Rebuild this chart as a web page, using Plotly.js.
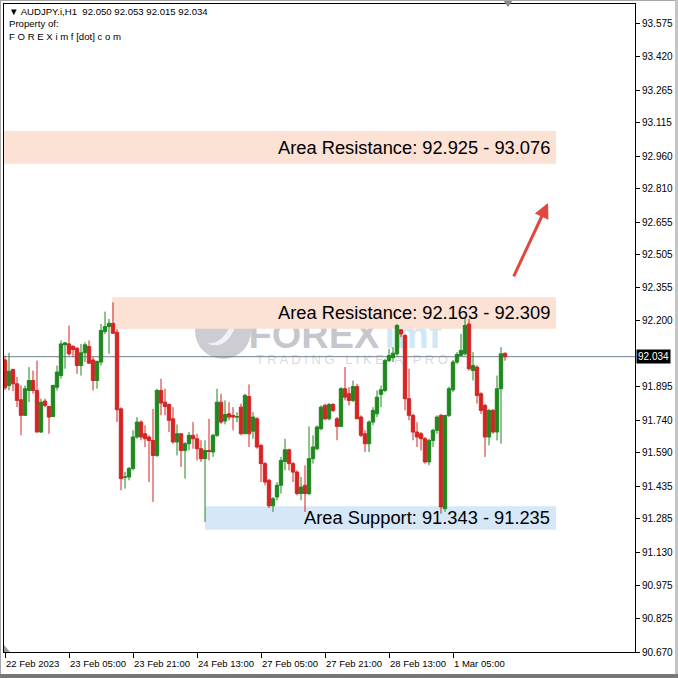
<!DOCTYPE html>
<html>
<head>
<meta charset="utf-8">
<script src="https://cdn.plot.ly/plotly-3.0.1.min.js"></script>
<style>
  html, body { margin:0; padding:0; background:#fff; }
  #wrap { position:relative; width:678px; height:678px; overflow:hidden; }
  #chart { position:absolute; left:0; top:0; width:678px; height:678px; }
  .edge { position:absolute; background:#a6a6a6; }
</style>
</head>
<body>
<div id="wrap">
  <div id="chart"></div>
  <div class="edge" style="left:0;top:0;width:678px;height:1px;"></div>
  <div class="edge" style="left:0;top:0;width:1px;height:678px;"></div>
  <div class="edge" style="left:675px;top:0;width:3px;height:678px;background:#c4c4c4;"></div>
  <div class="edge" style="left:0;top:674px;width:678px;height:4px;background:#777;"></div>
</div>
<script>
// ---- Data (AUDJPY.i, H1) ----
const openP = [92.019,91.901,91.975,91.909,91.835,91.763,91.878,91.924,91.878,91.686,
91.829,91.804,91.758,91.893,91.947,92.089,92.093,92.082,92.073,91.993,
92.052,92.081,92.019,91.924,92.009,92.150,92.173,92.188,92.147,91.793,
91.478,91.478,91.517,91.663,91.732,91.678,91.663,91.647,91.578,91.878,
91.824,91.813,91.747,91.640,91.678,91.601,91.632,91.671,91.655,91.609,
91.563,91.601,91.594,91.671,91.824,91.737,91.770,91.763,91.755,91.801,
91.678,91.850,91.690,91.747,91.624,91.540,91.463,91.345,91.386,91.440,
91.550,91.604,91.540,91.501,91.402,91.440,91.402,91.563,91.609,91.701,
91.809,91.747,91.813,91.747,91.712,91.886,91.863,91.832,91.896,91.755,
91.678,91.632,91.732,91.770,91.860,91.878,92.016,92.029,92.047,92.158,
92.132,91.840,91.763,91.686,91.678,91.655,91.548,91.647,91.694,91.763,
91.332,91.763,91.881,92.009,92.039,92.047,92.185,91.970,91.986,91.863,
91.809,91.663,91.786,91.686,91.886,92.050];
const highP = [92.039,92.052,91.978,91.940,91.901,91.901,91.986,91.970,92.016,91.840,
91.840,91.806,91.905,91.993,92.109,92.101,92.178,92.086,92.078,92.093,
92.101,92.109,92.032,92.016,92.185,92.242,92.208,92.285,92.162,91.800,
91.502,91.525,91.694,91.755,91.740,91.717,91.671,91.793,91.886,91.932,
91.886,91.817,91.801,91.721,91.681,91.640,91.686,91.732,91.678,91.648,
91.648,91.747,91.678,91.886,91.863,91.832,91.824,91.801,91.778,91.817,
91.863,91.906,91.778,91.755,91.632,91.548,91.470,91.386,91.455,91.571,
91.655,91.609,91.548,91.509,91.478,91.532,91.712,91.671,91.717,91.809,
91.817,91.820,91.820,91.755,91.893,91.986,91.893,91.924,91.909,91.763,
91.694,91.740,91.801,91.878,91.901,92.024,92.070,92.078,92.185,92.162,
92.139,91.978,91.770,91.732,91.686,91.663,91.655,91.701,91.763,91.770,
91.763,91.896,92.019,92.055,92.139,92.208,92.208,92.055,91.993,91.870,
91.817,91.793,91.793,91.947,92.078,92.053];
const lowP = [91.881,91.878,91.875,91.801,91.671,91.760,91.824,91.863,91.684,91.681,
91.800,91.678,91.755,91.878,91.932,91.978,92.039,92.032,91.955,91.947,
92.009,92.001,91.878,91.886,91.993,92.139,92.047,92.139,91.732,91.417,
91.425,91.463,91.509,91.655,91.648,91.617,91.455,91.363,91.571,91.763,
91.763,91.686,91.632,91.578,91.525,91.471,91.601,91.609,91.555,91.548,
91.270,91.555,91.571,91.663,91.724,91.721,91.740,91.694,91.732,91.671,
91.676,91.617,91.655,91.609,91.455,91.440,91.335,91.317,91.371,91.402,
91.509,91.509,91.455,91.394,91.371,91.317,91.394,91.540,91.601,91.694,
91.740,91.740,91.778,91.648,91.712,91.832,91.809,91.824,91.747,91.663,
91.594,91.594,91.717,91.755,91.801,91.870,92.009,92.009,92.039,92.124,
91.786,91.740,91.648,91.617,91.601,91.540,91.532,91.617,91.678,91.309,
91.317,91.755,91.870,92.001,92.039,92.039,91.970,91.924,91.817,91.770,
91.571,91.624,91.678,91.647,91.632,92.015];
const closeP = [91.890,91.967,91.909,91.832,91.763,91.886,91.924,91.878,91.686,91.824,
91.809,91.755,91.901,91.963,92.093,92.098,92.047,92.067,91.993,92.052,
92.089,92.004,91.924,92.012,92.155,92.173,92.188,92.142,91.789,91.471,
91.478,91.517,91.663,91.732,91.663,91.655,91.647,91.578,91.878,91.820,
91.804,91.740,91.640,91.678,91.601,91.632,91.671,91.655,91.609,91.563,
91.601,91.596,91.671,91.824,91.732,91.767,91.755,91.755,91.757,91.678,
91.855,91.678,91.755,91.617,91.540,91.455,91.345,91.378,91.440,91.555,
91.604,91.540,91.501,91.402,91.432,91.402,91.563,91.617,91.709,91.801,
91.747,91.813,91.786,91.712,91.886,91.847,91.832,91.896,91.747,91.671,
91.632,91.732,91.786,91.847,91.881,92.016,92.039,92.050,92.178,92.139,
91.840,91.763,91.686,91.663,91.655,91.548,91.647,91.694,91.755,91.340,
91.763,91.886,92.009,92.044,92.063,92.178,91.978,91.993,91.855,91.786,
91.663,91.786,91.686,91.886,92.047,92.034];

const timeTickIdx = [0,16,32,48,64,80,96,112];
const timeTickText = ["22 Feb 2023","23 Feb 05:00","23 Feb 21:00","24 Feb 13:00",
                      "27 Feb 05:00","27 Feb 21:00","28 Feb 13:00","1 Mar 05:00"];
const priceTicks = [93.575,93.420,93.265,93.115,92.960,92.810,92.655,92.505,92.355,92.200,
                    91.895,91.740,91.590,91.435,91.285,91.130,90.975,90.825,90.670];
const lastPrice = 92.034;
const headerText = ["\u25BC AUDJPY.i,H1  92.050 92.053 92.015 92.034","Property of:","F O R E X i m f [dot] c o m"];

const zoneLow   = [92.925, 92.163, 91.235];
const zoneHigh  = [93.076, 92.309, 91.343];
const zoneLabel = ["Area Resistance: 92.925 - 93.076","Area Resistance: 92.163 - 92.309","Area Support: 91.343 - 91.235"];
const zoneKind  = ["res","res","sup"];

// ---- Drawing ----
const xIdx = openP.map((_, i) => i);
const zoneStart = [-0.25, 26.75, 50];
const zoneEnd = 137.75;

const font = "Liberation Sans, Arial, sans-serif";
const px2paperX = px => (px - 4) / 631;
const px2paperY = py => (652 - py) / 648;

const shapes = [];
zoneLow.forEach((lo, k) => {
  shapes.push({type:'rect', xref:'x', yref:'y', x0:zoneStart[k], x1:zoneEnd, y0:lo, y1:zoneHigh[k],
    fillcolor: zoneKind[k] === 'res' ? '#FCE1D5' : '#D6E8F8', line:{width:0}, layer:'below'});
});
// watermark
shapes.push({type:'circle', xref:'paper', yref:'paper', x0:px2paperX(195), x1:px2paperX(251), y0:px2paperY(359), y1:px2paperY(303),
  fillcolor:'rgba(95,95,115,0.32)', line:{width:0}, layer:'below'});
shapes.push({type:'path', xref:'paper', yref:'paper', layer:'below',
  path:`M ${px2paperX(206)},${px2paperY(343)} Q ${px2paperX(222)},${px2paperY(346)} ${px2paperX(232)},${px2paperY(322)} L ${px2paperX(226)},${px2paperY(322)} L ${px2paperX(238)},${px2paperY(313)} L ${px2paperX(241)},${px2paperY(328)} L ${px2paperX(236)},${px2paperY(325)} Q ${px2paperX(226)},${px2paperY(352)} ${px2paperX(206)},${px2paperY(343)} Z`,
  fillcolor:'rgba(255,255,255,0.75)', line:{width:0}});
shapes.push({type:'rect', xref:'paper', yref:'paper', x0:px2paperX(250), x1:px2paperX(378), y0:px2paperY(350), y1:px2paperY(312),
  fillcolor:'rgba(0,0,0,0)', line:{width:0}, layer:'below',
  label:{text:'FOREX', textposition:'middle center', font:{family:font, size:38, color:'rgba(90,92,112,0.34)', weight:'bold'}}});
shapes.push({type:'rect', xref:'paper', yref:'paper', x0:px2paperX(378), x1:px2paperX(448), y0:px2paperY(350), y1:px2paperY(312),
  fillcolor:'rgba(0,0,0,0)', line:{width:0}, layer:'below',
  label:{text:'imf', textposition:'middle center', font:{family:font, size:38, color:'rgba(90,170,220,0.28)', weight:'bold'}}});
shapes.push({type:'rect', xref:'paper', yref:'paper', x0:px2paperX(258), x1:px2paperX(446), y0:px2paperY(366), y1:px2paperY(350),
  fillcolor:'rgba(0,0,0,0)', line:{width:0}, layer:'below',
  label:{text:'T R A D I N G   L I K E   A   P R O', textposition:'middle center', font:{family:font, size:13, color:'rgba(120,120,135,0.30)'}}});
// last price line
shapes.push({type:'line', xref:'paper', yref:'y', x0:0, x1:1, y0:lastPrice, y1:lastPrice,
  line:{color:'#6f8090', width:1}, layer:'below'});
// chart shift marker (top) and scroll marker (bottom-left)
shapes.push({type:'path', xref:'paper', yref:'paper',
  path:`M ${px2paperX(503)},${px2paperY(0)} L ${px2paperX(513)},${px2paperY(0)} L ${px2paperX(508)},${px2paperY(7)} Z`,
  fillcolor:'#8a8a8a', line:{width:0}});
shapes.push({type:'path', xref:'paper', yref:'paper',
  path:`M ${px2paperX(4)},${px2paperY(645)} L ${px2paperX(4)},${px2paperY(652)} L ${px2paperX(10)},${px2paperY(652)} Z`,
  fillcolor:'#9a9a9a', line:{width:0}});

const annotations = [];
zoneLabel.forEach((t, k) => {
  annotations.push({xref:'x', yref:'y', x:136.75, y:(zoneLow[k] + zoneHigh[k]) / 2, xanchor:'right', yanchor:'middle',
    text:t, showarrow:false, font:{family:font, size:18.3, color:'#000'}});
});
annotations.push({xref:'x', yref:'y', axref:'x', ayref:'y', x:135.75, y:92.744, ax:127, ay:92.398,
  text:'', showarrow:true, arrowcolor:'#E2473D', arrowwidth:3, arrowhead:2, arrowsize:1});
annotations.push({xref:'paper', yref:'paper', x:0, y:1, xanchor:'left', yanchor:'top', xshift:3, yshift:0,
  align:'left', showarrow:false, text:headerText.join('<br>'), font:{family:font, size:9.6, color:'#000'}});
annotations.push({xref:'paper', yref:'y', x:1, y:lastPrice, xanchor:'left', yanchor:'middle', xshift:1,
  text:lastPrice.toFixed(3), showarrow:false, bgcolor:'#000', borderpad:1,
  font:{family:font, size:10, color:'#fff'}});

const trace = {
  type:'candlestick', x:xIdx, open:openP, high:highP, low:lowP, close:closeP,
  increasing:{line:{color:'#1E881E', width:1}, fillcolor:'#1E881E'},
  decreasing:{line:{color:'#D42424', width:1}, fillcolor:'#D42424'},
  whiskerwidth:0, hoverinfo:'skip', showlegend:false
};

const layout = {
  width:678, height:678,
  margin:{l:4, r:43, t:4, b:26, pad:0},
  paper_bgcolor:'rgba(0,0,0,0)', plot_bgcolor:'#fff',
  showlegend:false,
  boxgap:0.15, boxgroupgap:0,
  xaxis:{range:[-0.25, 157.5], showgrid:false, zeroline:false, showline:true, mirror:true,
    linecolor:'#000', linewidth:1, ticks:'outside', ticklen:5, tickcolor:'#000',
    tickmode:'array', tickvals:timeTickIdx, ticktext:timeTickText, ticklabelposition:'outside right',
    tickangle:0, automargin:false, ticklabelstandoff:3,
    tickfont:{family:font, size:9.5, color:'#000'}, rangeslider:{visible:false}, fixedrange:true},
  yaxis:{side:'right', range:[90.670, 93.663], showgrid:false, zeroline:false, showline:true, mirror:true,
    linecolor:'#000', linewidth:1, ticks:'outside', ticklen:4, tickcolor:'#000',
    tickmode:'array', tickvals:priceTicks, ticktext:priceTicks.map(v => v.toFixed(3)),
    tickfont:{family:font, size:10, color:'#000'}, fixedrange:true, automargin:false},
  shapes:shapes,
  annotations:annotations
};

Plotly.newPlot('chart', [trace], layout, {staticPlot:true, displayModeBar:false});
</script>
</body>
</html>
